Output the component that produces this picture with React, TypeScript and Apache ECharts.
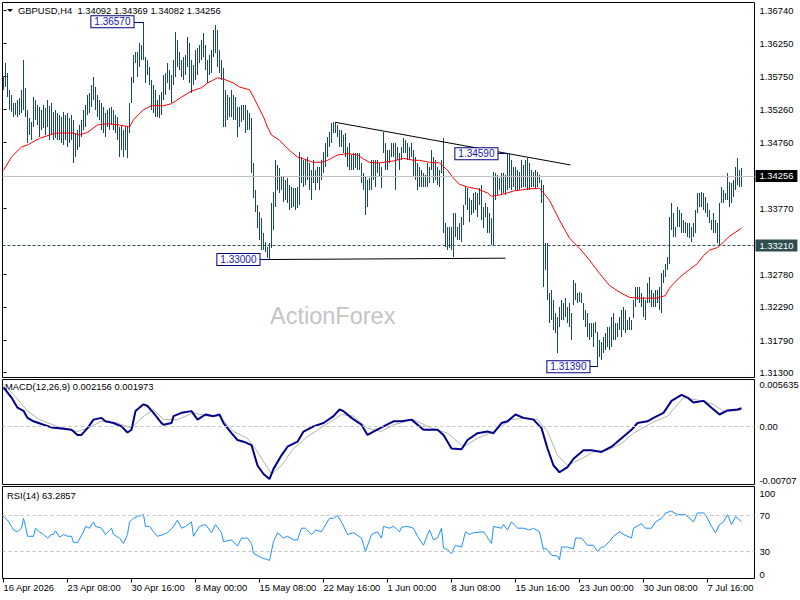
import React, { useEffect, useRef } from 'react';
import * as echarts from 'echarts';

const SYMBOL = 'GBPUSD,H4';
const LAST_OHLC = [1.34092, 1.34369, 1.34082, 1.34256];
const MACD_LAST = [0.002156, 0.001973];
const RSI_LAST = 63.2857;
const LEVEL_LINE = 1.3321;

const DATE_STEP = 32;
const dateTicks = ['16 Apr 2026', '23 Apr 08:00', '30 Apr 16:00', '8 May 00:00', '15 May 08:00', '22 May 16:00', '1 Jun 00:00', '8 Jun 08:00', '15 Jun 16:00', '23 Jun 00:00', '30 Jun 08:00', '7 Jul 16:00'];
const priceTicks = [1.3130, 1.3179, 1.3229, 1.3278, 1.3377, 1.3476, 1.3526, 1.3575, 1.3625, 1.3674];
const macdTicks = [-0.00707, 0, 0.005635];
const macdTickText = ['-0.00707', '0.00', '0.005635'];
const rsiTicks = [0, 30, 70, 100];
const rsiLevels = [30, 70];

const barHigh = [
  1.3574, 1.3595, 1.3580, 1.3555, 1.3547, 1.3535, 1.3535, 1.3540, 1.3543, 1.3555,
  1.3600, 1.3558, 1.3525, 1.3513, 1.3507, 1.3544, 1.3540, 1.3532, 1.3529, 1.3525,
  1.3532, 1.3528, 1.3540, 1.3531, 1.3535, 1.3522, 1.3525, 1.3520, 1.3517, 1.3514,
  1.3522, 1.3517, 1.3520, 1.3513, 1.3517, 1.3510, 1.3490, 1.3494, 1.3502, 1.3510,
  1.3525, 1.3532, 1.3547, 1.3550, 1.3562, 1.3574, 1.3559, 1.3547, 1.3540, 1.3535,
  1.3529, 1.3520, 1.3525, 1.3528, 1.3529, 1.3525, 1.3517, 1.3514, 1.3499, 1.3502,
  1.3494, 1.3499, 1.3499, 1.3535, 1.3574, 1.3607, 1.3612, 1.3612, 1.3625, 1.3622,
  1.3657, 1.3604, 1.3600, 1.3589, 1.3570, 1.3562, 1.3555, 1.3540, 1.3547, 1.3552,
  1.3577, 1.3580, 1.3595, 1.3585, 1.3577, 1.3600, 1.3642, 1.3630, 1.3612, 1.3600,
  1.3604, 1.3607, 1.3634, 1.3625, 1.3600, 1.3592, 1.3615, 1.3618, 1.3622, 1.3630,
  1.3640, 1.3622, 1.3600, 1.3607, 1.3615, 1.3645, 1.3652, 1.3645, 1.3615, 1.3600,
  1.3588, 1.3555, 1.3547, 1.3544, 1.3555, 1.3547, 1.3544, 1.3529, 1.3529, 1.3532,
  1.3532, 1.3532, 1.3525, 1.3520, 1.3513, 1.3445, 1.3404, 1.3382, 1.3371, 1.3362,
  1.3340, 1.3326, 1.3319, 1.3325, 1.3385, 1.3401, 1.3449, 1.3442, 1.3437, 1.3424,
  1.3424, 1.3419, 1.3422, 1.3412, 1.3409, 1.3407, 1.3407, 1.3409, 1.3461, 1.3454,
  1.3449, 1.3449, 1.3454, 1.3445, 1.3434, 1.3449, 1.3434, 1.3439, 1.3439, 1.3449,
  1.3461, 1.3475, 1.3484, 1.3491, 1.3505, 1.3506, 1.3506, 1.3502, 1.3494, 1.3494,
  1.3487, 1.3490, 1.3469, 1.3475, 1.3457, 1.3460, 1.3460, 1.3460, 1.3460, 1.3445,
  1.3430, 1.3424, 1.3419, 1.3422, 1.3449, 1.3449, 1.3449, 1.3449, 1.3445, 1.3439,
  1.3491, 1.3475, 1.3464, 1.3464, 1.3475, 1.3475, 1.3475, 1.3469, 1.3460, 1.3469,
  1.3482, 1.3479, 1.3475, 1.3469, 1.3475, 1.3464, 1.3454, 1.3445, 1.3439, 1.3434,
  1.3430, 1.3427, 1.3445, 1.3439, 1.3464, 1.3454, 1.3449, 1.3439, 1.3434, 1.3449,
  1.3482, 1.3355, 1.3349, 1.3349, 1.3349, 1.3370, 1.3370, 1.3349, 1.3355, 1.3364,
  1.3382, 1.3409, 1.3407, 1.3392, 1.3389, 1.3400, 1.3401, 1.3400, 1.3407, 1.3412,
  1.3379, 1.3385, 1.3379, 1.3370, 1.3362, 1.3431, 1.3430, 1.3427, 1.3422, 1.3430,
  1.3430, 1.3427, 1.3459, 1.3459, 1.3449, 1.3439, 1.3439, 1.3434, 1.3431, 1.3449,
  1.3442, 1.3449, 1.3452, 1.3445, 1.3434, 1.3431, 1.3434, 1.3431, 1.3427, 1.3419,
  1.3412, 1.3325, 1.3325, 1.3250, 1.3254, 1.3239, 1.3219, 1.3213, 1.3228, 1.3239,
  1.3234, 1.3242, 1.3228, 1.3234, 1.3219, 1.3269, 1.3264, 1.3250, 1.3251, 1.3250,
  1.3234, 1.3224, 1.3219, 1.3204, 1.3204, 1.3204, 1.3206, 1.3191, 1.3179, 1.3176,
  1.3183, 1.3189, 1.3198, 1.3198, 1.3213, 1.3219, 1.3204, 1.3204, 1.3213, 1.3224,
  1.3228, 1.3224, 1.3209, 1.3213, 1.3209, 1.3239, 1.3258, 1.3258, 1.3258, 1.3250,
  1.3243, 1.3239, 1.3264, 1.3273, 1.3254, 1.3250, 1.3254, 1.3254, 1.3258, 1.3279,
  1.3284, 1.3294, 1.3304, 1.3364, 1.3385, 1.3370, 1.3349, 1.3379, 1.3374, 1.3370,
  1.3359, 1.3356, 1.3355, 1.3355, 1.3349, 1.3355, 1.3374, 1.3400, 1.3400, 1.3401,
  1.3400, 1.3394, 1.3385, 1.3374, 1.3359, 1.3370, 1.3359, 1.3355, 1.3385, 1.3409,
  1.3404, 1.3400, 1.3430, 1.3416, 1.3415, 1.3419, 1.3439, 1.3452, 1.3434, 1.34369,
];

const barLow = [
  1.3555, 1.3559, 1.3544, 1.3525, 1.3522, 1.3514, 1.3517, 1.3514, 1.3517, 1.3520,
  1.3525, 1.3514, 1.3475, 1.3487, 1.3479, 1.3499, 1.3510, 1.3502, 1.3484, 1.3494,
  1.3497, 1.3487, 1.3499, 1.3479, 1.3487, 1.3479, 1.3482, 1.3479, 1.3479, 1.3475,
  1.3472, 1.3479, 1.3469, 1.3475, 1.3479, 1.3445, 1.3454, 1.3464, 1.3469, 1.3484,
  1.3494, 1.3499, 1.3517, 1.3520, 1.3529, 1.3540, 1.3525, 1.3514, 1.3510, 1.3494,
  1.3490, 1.3484, 1.3499, 1.3494, 1.3502, 1.3494, 1.3490, 1.3479, 1.3454, 1.3464,
  1.3454, 1.3464, 1.3452, 1.3490, 1.3535, 1.3565, 1.3595, 1.3574, 1.3589, 1.3600,
  1.3600, 1.3565, 1.3577, 1.3562, 1.3525, 1.3520, 1.3514, 1.3514, 1.3513, 1.3517,
  1.3540, 1.3547, 1.3565, 1.3555, 1.3535, 1.3562, 1.3574, 1.3589, 1.3585, 1.3574,
  1.3570, 1.3577, 1.3589, 1.3565, 1.3550, 1.3562, 1.3570, 1.3577, 1.3595, 1.3600,
  1.3604, 1.3585, 1.3565, 1.3577, 1.3580, 1.3604, 1.3610, 1.3589, 1.3580, 1.3570,
  1.3499, 1.3499, 1.3510, 1.3514, 1.3514, 1.3510, 1.3510, 1.3484, 1.3499, 1.3507,
  1.3510, 1.3490, 1.3494, 1.3494, 1.3430, 1.3392, 1.3371, 1.3347, 1.3329, 1.3314,
  1.3314, 1.3311, 1.3302, 1.3300, 1.3317, 1.3344, 1.3379, 1.3404, 1.3400, 1.3404,
  1.3386, 1.3389, 1.3385, 1.3374, 1.3377, 1.3379, 1.3374, 1.3377, 1.3382, 1.3415,
  1.3409, 1.3412, 1.3419, 1.3404, 1.3389, 1.3415, 1.3404, 1.3415, 1.3404, 1.3419,
  1.3430, 1.3439, 1.3454, 1.3469, 1.3475, 1.3490, 1.3490, 1.3484, 1.3469, 1.3469,
  1.3460, 1.3454, 1.3439, 1.3434, 1.3434, 1.3434, 1.3437, 1.3434, 1.3434, 1.3415,
  1.3404, 1.3367, 1.3379, 1.3404, 1.3404, 1.3419, 1.3409, 1.3430, 1.3424, 1.3407,
  1.3460, 1.3434, 1.3434, 1.3445, 1.3454, 1.3454, 1.3404, 1.3449, 1.3434, 1.3449,
  1.3460, 1.3460, 1.3449, 1.3449, 1.3454, 1.3424, 1.3419, 1.3404, 1.3409, 1.3409,
  1.3409, 1.3409, 1.3409, 1.3415, 1.3434, 1.3415, 1.3419, 1.3412, 1.3409, 1.3430,
  1.3340, 1.3319, 1.3314, 1.3317, 1.3314, 1.3304, 1.3334, 1.3329, 1.3329, 1.3326,
  1.3352, 1.3382, 1.3374, 1.3356, 1.3367, 1.3370, 1.3374, 1.3364, 1.3382, 1.3359,
  1.3347, 1.3364, 1.3340, 1.3340, 1.3322, 1.3322, 1.3389, 1.3397, 1.3404, 1.3397,
  1.3400, 1.3397, 1.3404, 1.3407, 1.3404, 1.3409, 1.3404, 1.3404, 1.3404, 1.3407,
  1.3409, 1.3409, 1.3404, 1.3404, 1.3409, 1.3409, 1.3407, 1.3409, 1.3415, 1.3385,
  1.3258, 1.3284, 1.3239, 1.3204, 1.3209, 1.3194, 1.3189, 1.3159, 1.3198, 1.3209,
  1.3209, 1.3213, 1.3204, 1.3198, 1.3179, 1.3231, 1.3239, 1.3234, 1.3236, 1.3234,
  1.3209, 1.3198, 1.3183, 1.3179, 1.3183, 1.3168, 1.3189, 1.3139, 1.3153, 1.3149,
  1.3159, 1.3164, 1.3168, 1.3164, 1.3168, 1.3179, 1.3179, 1.3183, 1.3194, 1.3183,
  1.3194, 1.3189, 1.3194, 1.3194, 1.3194, 1.3212, 1.3228, 1.3239, 1.3234, 1.3228,
  1.3213, 1.3209, 1.3234, 1.3234, 1.3228, 1.3228, 1.3228, 1.3234, 1.3224, 1.3219,
  1.3264, 1.3273, 1.3284, 1.3294, 1.3344, 1.3334, 1.3334, 1.3349, 1.3349, 1.3340,
  1.3340, 1.3340, 1.3334, 1.3332, 1.3326, 1.3334, 1.3340, 1.3370, 1.3379, 1.3379,
  1.3374, 1.3370, 1.3364, 1.3355, 1.3344, 1.3340, 1.3340, 1.3325, 1.3322, 1.3385,
  1.3385, 1.3389, 1.3389, 1.3379, 1.3385, 1.3394, 1.3404, 1.3412, 1.3409, 1.34082,
];

// moving average (red) read at bar indices
const maPoints = [
  [0, 1.3434], [4, 1.3454], [9, 1.3469], [12, 1.3472], [18, 1.3482], [23, 1.3487], [27, 1.3490], [35, 1.3490],
  [38, 1.3487], [42, 1.3491], [47, 1.3502], [52, 1.3504], [58, 1.3502], [63, 1.3499], [65, 1.3510], [70, 1.3525],
  [74, 1.3531], [80, 1.3531], [84, 1.3534], [89, 1.3544], [94, 1.3553], [99, 1.3558], [102, 1.3565], [107, 1.3573],
  [110, 1.3571], [115, 1.3565], [118, 1.3559], [123, 1.3555], [125, 1.3544], [130, 1.3514], [132, 1.3499], [134, 1.3487],
  [138, 1.3479], [143, 1.3464], [147, 1.3454], [152, 1.3449], [155, 1.3446], [159, 1.3446], [162, 1.3449], [167, 1.3457],
  [172, 1.3459], [177, 1.3457], [180, 1.3451], [183, 1.3446], [188, 1.3445], [195, 1.3448], [200, 1.3452], [205, 1.3449],
  [208, 1.3449], [213, 1.3446], [218, 1.3445], [222, 1.3434], [225, 1.3422], [228, 1.3413], [232, 1.3409], [237, 1.3406],
  [242, 1.3400], [244, 1.3395], [248, 1.3397], [252, 1.3400], [255, 1.3403], [258, 1.3404], [262, 1.3406], [268, 1.3407],
  [273, 1.3389], [278, 1.3359], [283, 1.3332], [288, 1.3317], [293, 1.3299], [298, 1.3279], [303, 1.3261], [308, 1.3251],
  [313, 1.3243], [318, 1.3242], [323, 1.3242], [327, 1.3242], [331, 1.3246], [333, 1.3257], [338, 1.3273], [343, 1.3285],
  [347, 1.3294], [350, 1.3306], [353, 1.3314], [357, 1.3318], [360, 1.3326], [363, 1.3335], [369, 1.3347],
];

const macdMain = [
  [0, 0.00469], [4, 0.00345], [7, 0.00222], [10, 0.00185], [12, 0.00099], [15, 0.00058], [20, 0.00016], [24, -0.00016],
  [30, -0.00033], [34, -0.00045], [37, -0.00107], [39, -0.00107], [42, -0.00025], [45, 0.00078], [49, 0.00099], [51, 0.00058],
  [55, 0.00037], [59, -0.00004], [62, -0.00078], [64, -0.00045], [66, 0.00181], [70, 0.00263], [72, 0.00243], [75, 0.0016],
  [79, 0.00037], [80, 0.00016], [84, 0.00037], [85, 0.0012], [89, 0.0016], [94, 0.00181], [97, 0.00078], [101, 0.0014],
  [105, 0.0012], [108, 0.0014], [110, 0.00037], [114, -0.00086], [117, -0.00169], [120, -0.00189], [124, -0.0023], [127, -0.00477],
  [130, -0.0058], [133, -0.00641], [135, -0.00518], [139, -0.00354], [142, -0.0025], [147, -0.00189], [150, -0.00066], [155, -0.00004],
  [160, 0.00037], [165, 0.0012], [168, 0.00201], [170, 0.0018], [174, 0.00099], [179, 0.00016], [182, -0.00107], [185, -0.00066],
  [190, -0.00004], [195, 0.00058], [199, 0.00058], [204, 0.00078], [210, -0.00045], [217, -0.00045], [220, -0.00107], [224, -0.00271],
  [229, -0.0028], [232, -0.00169], [237, -0.00086], [242, -0.00066], [245, -0.00086], [249, 0.00037], [252, 0.00058], [256, 0.0014],
  [260, 0.00099], [265, 0.00078], [269, -0.00025], [272, -0.00271], [275, -0.00477], [278, -0.00559], [282, -0.00497], [285, -0.00395],
  [290, -0.00292], [294, -0.00292], [299, -0.00313], [304, -0.0025], [309, -0.00148], [314, -0.00045], [317, 0.00037], [322, 0.00058],
  [325, 0.00099], [330, 0.0016], [334, 0.00305], [339, 0.00378], [342, 0.00345], [345, 0.00284], [350, 0.00305], [354, 0.00222],
  [358, 0.0014], [362, 0.00189], [367, 0.00201], [369, 0.002156],
];

const macdSignal = [
  [0, 0.00506], [5, 0.00382], [12, 0.00181], [18, 0.00078], [27, -0.00004], [37, -0.00066], [42, -0.00025], [49, 0.00058],
  [57, 0.00037], [64, -0.00025], [69, 0.00099], [75, 0.00201], [80, 0.00078], [87, 0.00078], [95, 0.0016], [102, 0.0012],
  [108, 0.0012], [115, -0.00066], [122, -0.00148], [127, -0.00313], [134, -0.0058], [139, -0.00477], [145, -0.00271], [152, -0.00127],
  [160, 0], [169, 0.0014], [175, 0.0012], [182, -0.00025], [189, -0.00066], [195, 0.00016], [205, 0.00078], [214, -0.00025],
  [222, -0.00086], [230, -0.0025], [237, -0.00148], [245, -0.00066], [254, 0.00078], [262, 0.00099], [267, 0.00078], [272, -0.00066],
  [277, -0.00354], [282, -0.00477], [289, -0.00395], [295, -0.00313], [302, -0.00292], [309, -0.0021], [315, -0.00086], [324, 0.00037],
  [332, 0.0012], [340, 0.00345], [349, 0.00305], [355, 0.00263], [360, 0.00181], [365, 0.00181], [369, 0.001973],
];

const rsiPoints = [
  [0, 69], [2, 65], [4, 58], [5, 54], [7, 52], [9, 56], [10, 67], [11, 58], [12, 47], [15, 47], [16, 56], [18, 52], [20, 49],
  [22, 45], [24, 49], [25, 49], [26, 53], [28, 46], [30, 49], [32, 47], [34, 47], [35, 40], [37, 40], [40, 52], [41, 58],
  [43, 56], [45, 63], [46, 58], [49, 56], [51, 49], [54, 56], [55, 49], [58, 45], [60, 39], [62, 49], [63, 63], [65, 67],
  [67, 69], [70, 71], [71, 58], [73, 58], [75, 52], [77, 47], [80, 49], [82, 51], [85, 58], [87, 65], [89, 56], [91, 58],
  [94, 63], [95, 47], [98, 58], [101, 60], [104, 51], [106, 60], [109, 51], [110, 41], [114, 43], [117, 36], [119, 45],
  [122, 45], [124, 39], [125, 28], [129, 23], [132, 21], [133, 20], [135, 41], [137, 51], [140, 45], [142, 47], [145, 43],
  [147, 43], [149, 56], [151, 56], [154, 49], [156, 54], [159, 52], [160, 56], [163, 67], [165, 67], [167, 70], [169, 63],
  [172, 49], [175, 51], [179, 45], [181, 30], [184, 49], [187, 52], [189, 45], [190, 58], [193, 56], [195, 58], [198, 52],
  [199, 57], [202, 58], [205, 56], [207, 47], [210, 37], [211, 43], [213, 54], [215, 43], [217, 45], [219, 56], [220, 34],
  [222, 32], [224, 28], [226, 37], [229, 35], [231, 52], [233, 49], [235, 51], [240, 52], [241, 49], [244, 39], [245, 58],
  [249, 56], [250, 60], [252, 54], [254, 63], [257, 56], [260, 56], [263, 54], [265, 56], [268, 52], [270, 32], [271, 34],
  [274, 26], [277, 25], [278, 21], [279, 35], [282, 35], [285, 33], [286, 45], [289, 45], [292, 37], [295, 37], [297, 30],
  [299, 35], [300, 35], [303, 41], [305, 47], [308, 52], [310, 49], [314, 45], [315, 56], [319, 61], [321, 56], [324, 56],
  [326, 63], [329, 67], [331, 73], [334, 75], [337, 71], [341, 71], [345, 63], [347, 73], [350, 73], [351, 71], [354, 58],
  [356, 51], [358, 60], [360, 63], [362, 71], [364, 60], [366, 69], [369, 63.2857],
];

// annotated extremes: [bar where the label box ends, extreme bar, price]
const annotations = [
  [65, 70, 1.3657],
  [247, 252, 1.3459],
  [128, 133, 1.3300],
  [293, 297, 1.3139],
];
const supportLine = [[133, 1.3300], [251, 1.3302]];
const trendLine = [[166, 1.3506], [283.5, 1.3442]];

const PRICE_MIN = 1.31228;
const PRICE_MAX = 1.3686;
const FONT = '"Liberation Sans", Arial, sans-serif';
const FS = 9.4;
const BAR_COLOR = '#164a68';
const NAVY = '#000080';

function buildOption(): any {
  const barData = barHigh.map((h, i) => [i, barLow[i], h]);
  const tickIdx = dateTicks.map((_, k) => k * DATE_STEP);

  const xAxis = [0, 1, 2].map((g) => ({
    type: 'value',
    gridIndex: g,
    min: -0.5,
    max: 375.5,
    axisLine: { show: false },
    splitLine: { show: false },
    axisTick: g === 2
      ? { show: true, customValues: tickIdx, length: 4, inside: false, lineStyle: { color: '#000', width: 1 } }
      : { show: false },
    axisLabel: g === 2
      ? {
          show: true,
          customValues: tickIdx,
          formatter: (v: number) => dateTicks[Math.round(v / DATE_STEP)] || '',
          align: 'left',
          margin: 4,
          color: '#000',
          fontFamily: FONT,
          fontSize: FS,
        }
      : { show: false },
  }));

  const yLabel = { color: '#000', fontFamily: FONT, fontSize: FS, margin: 5 };
  const yTick = (vals: number[]) => ({ show: true, customValues: vals, length: 3, lineStyle: { color: '#000', width: 1 } });
  const yAxis = [
    {
      type: 'value', gridIndex: 0, position: 'right', min: PRICE_MIN, max: PRICE_MAX,
      axisLine: { show: false }, axisTick: yTick(priceTicks), splitLine: { show: false },
      axisLabel: { ...yLabel, customValues: priceTicks, formatter: (v: number) => v.toFixed(5) },
    },
    {
      type: 'value', gridIndex: 1, position: 'right', min: macdTicks[0], max: macdTicks[2],
      axisLine: { show: false }, axisTick: { show: false }, splitLine: { show: false },
      axisLabel: {
        ...yLabel, customValues: macdTicks,
        formatter: (v: number) => {
          let best = 0;
          macdTicks.forEach((t, k) => { if (Math.abs(t - v) < Math.abs(macdTicks[best] - v)) best = k; });
          return macdTickText[best];
        },
        verticalAlignMinLabel: 'bottom', verticalAlignMaxLabel: 'top',
      },
    },
    {
      type: 'value', gridIndex: 2, position: 'right', min: 0, max: 102.4,
      axisLine: { show: false }, axisTick: { show: false }, splitLine: { show: false },
      axisLabel: {
        ...yLabel, customValues: rsiTicks, formatter: (v: number) => String(Math.round(v)),
        verticalAlignMinLabel: 'bottom', verticalAlignMaxLabel: 'top',
      },
    },
  ];

  const gridBase = { left: 2.5, width: 752, show: true, borderColor: '#000', borderWidth: 1, backgroundColor: 'transparent', containLabel: false, outerBoundsMode: 'none' };
  const grid = [
    { ...gridBase, top: 2.5, height: 375 },
    { ...gridBase, top: 379.5, height: 105 },
    { ...gridBase, top: 486.5, height: 92 },
  ];

  const boxLabel = (text: string) => ({
    show: true, position: 'start', formatter: text, distance: 0,
    backgroundColor: '#fff', borderColor: NAVY, borderWidth: 1, padding: [1, 3, 0, 3],
    color: '#1414b4', fontFamily: FONT, fontSize: 10,
  });

  const priceMarks: any[] = [
    {
      yAxis: LAST_OHLC[3],
      lineStyle: { color: '#c0c0c0', type: 'solid', width: 1 },
      label: { show: true, position: 'end', distance: 1, formatter: LAST_OHLC[3].toFixed(5), backgroundColor: '#000', color: '#fff', padding: [2, 4, 1, 4], fontFamily: FONT, fontSize: FS },
    },
    {
      yAxis: LEVEL_LINE,
      lineStyle: { color: '#2f4f4f', type: [3, 2], width: 1 },
      label: { show: true, position: 'end', distance: 1, formatter: LEVEL_LINE.toFixed(5), backgroundColor: '#2f4f4f', color: '#fff', padding: [2, 4, 1, 4], fontFamily: FONT, fontSize: FS },
    },
    [
      { coord: trendLine[0], lineStyle: { color: '#000', type: 'solid', width: 1 }, label: { show: false } },
      { coord: trendLine[1] },
    ],
    [
      { coord: supportLine[0], lineStyle: { color: '#000', type: 'solid', width: 1 }, label: { show: false } },
      { coord: supportLine[1] },
    ],
    ...annotations.map(([from, bar, price]) => [
      { coord: [from, price], lineStyle: { color: NAVY, type: 'solid', width: 1 }, label: boxLabel(price.toFixed(5)) },
      { coord: [bar, price] },
    ]),
  ];

  const series: any[] = [
    {
      type: 'custom',
      name: 'bars',
      xAxisIndex: 0,
      yAxisIndex: 0,
      data: barData,
      encode: { x: 0, y: [1, 2] },
      silent: true,
      clip: false,
      renderItem: (_p: any, api: any) => {
        const i = api.value(0);
        const lo = api.coord([i, api.value(1)]);
        const hi = api.coord([i, api.value(2)]);
        const x = Math.floor(lo[0]) + 0.5;
        return {
          type: 'line',
          shape: { x1: x, y1: Math.round(lo[1]), x2: x, y2: Math.round(hi[1]) },
          style: { stroke: BAR_COLOR, lineWidth: 1 },
        };
      },
      z: 3,
    },
    {
      type: 'line',
      name: 'MA',
      xAxisIndex: 0,
      yAxisIndex: 0,
      data: maPoints,
      symbol: 'none',
      clip: false,
      lineStyle: { color: '#ff0000', width: 1 },
      itemStyle: { color: '#ff0000' },
      silent: true,
      z: 4,
      markLine: { silent: true, precision: 6, symbol: ['none', 'none'], animation: false, data: priceMarks, emphasis: { disabled: true } },
    },
    {
      type: 'line',
      name: 'signal',
      xAxisIndex: 1,
      yAxisIndex: 1,
      data: macdSignal,
      symbol: 'none',
      lineStyle: { color: '#b4b4b4', width: 1 },
      silent: true,
      z: 3,
      markLine: {
        silent: true, precision: 6, symbol: ['none', 'none'], animation: false,
        data: [{ yAxis: 0, lineStyle: { color: '#c0c0c0', type: [3, 3], width: 1 }, label: { show: false } }],
      },
    },
    {
      type: 'line',
      name: 'MACD',
      xAxisIndex: 1,
      yAxisIndex: 1,
      data: macdMain,
      symbol: 'none',
      lineStyle: { color: '#00008b', width: 2 },
      silent: true,
      z: 4,
    },
    {
      type: 'line',
      name: 'RSI',
      xAxisIndex: 2,
      yAxisIndex: 2,
      data: rsiPoints,
      symbol: 'none',
      lineStyle: { color: '#1e90ff', width: 1 },
      silent: true,
      z: 4,
      markLine: {
        silent: true, precision: 6, symbol: ['none', 'none'], animation: false,
        data: rsiLevels.map((v) => ({ yAxis: v, lineStyle: { color: '#c0c0c0', type: [3, 3], width: 1 }, label: { show: false } })),
      },
    },
  ];

  const graphic: any[] = [
    { type: 'polygon', shape: { points: [[7, 9], [13, 9], [10, 12]] }, style: { fill: '#000' }, silent: true },
    {
      type: 'text', left: 18, top: 5.5, silent: true,
      style: { text: `${SYMBOL}  ${LAST_OHLC.map((v) => v.toFixed(5)).join(' ')}`, font: `${FS}px ${FONT}`, fill: '#000' },
    },
    {
      type: 'text', left: 5, top: 381.5, silent: true,
      style: { text: `MACD(12,26,9) ${MACD_LAST[0].toFixed(6)} ${MACD_LAST[1].toFixed(6)}`, font: `${FS}px ${FONT}`, fill: '#000' },
    },
    {
      type: 'text', left: 7, top: 490.5, silent: true,
      style: { text: `RSI(14) ${RSI_LAST.toFixed(4)}`, font: `${FS}px ${FONT}`, fill: '#000' },
    },
    {
      type: 'text', left: 270, top: 304, silent: true, z: 0,
      style: { text: 'ActionForex', font: `23.5px ${FONT}`, fill: '#c4c4c4' },
    },
  ];

  return {
    animation: false,
    backgroundColor: '#fff',
    textStyle: { fontFamily: FONT, fontSize: FS },
    grid,
    xAxis,
    yAxis,
    series,
    graphic,
  };
}

export default function App() {
  const ref = useRef<HTMLDivElement>(null);
  useEffect(() => {
    if (!ref.current) return;
    const chart = echarts.init(ref.current, null, { renderer: 'svg' });
    chart.setOption(buildOption());
    return () => chart.dispose();
  }, []);
  return (
    <div
      ref={ref}
      style={{ position: 'absolute', left: 0, top: 0, width: 800, height: 600, background: '#fff' }}
    />
  );
}
